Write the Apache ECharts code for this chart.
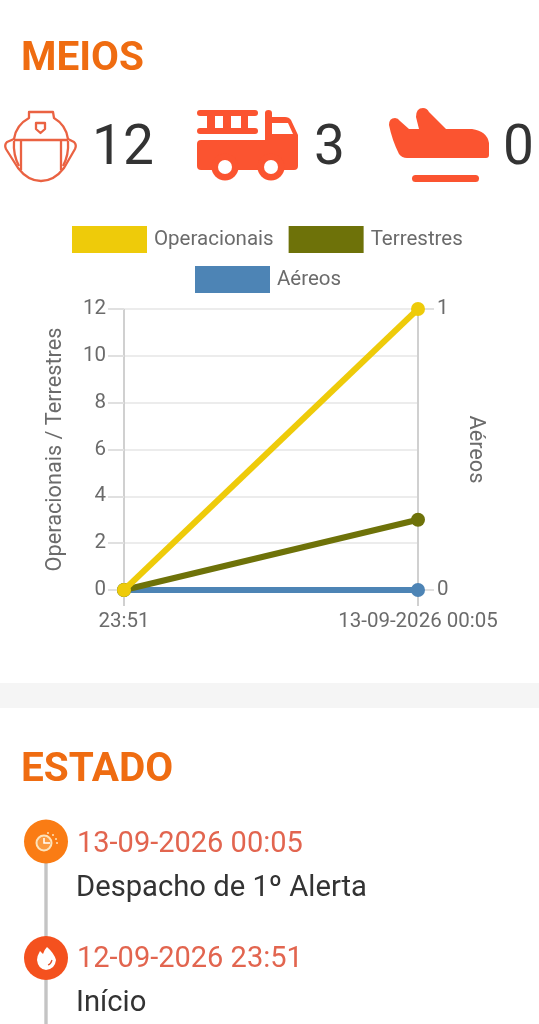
<!DOCTYPE html>
<html>
<head>
<meta charset="utf-8">
<style>html,body{margin:0;padding:0;background:#fff}#c{width:539px;height:1024px}</style>
<script src="https://cdn.jsdelivr.net/npm/echarts@6/dist/echarts.min.js"></script>
</head>
<body>
<div id="c"></div>
<script>
const timeLabels = ['23:51', '13-09-2026 00:05'];
const operacionais = [0, 12];
const terrestres = [0, 3];
const aereos = [0, 0];
const totals = ['12', '3', '0'];
const events = [
  ['13-09-2026 00:05', 'Despacho de 1º Alerta'],
  ['12-09-2026 23:51', 'Início']
];
const FONT = 'Roboto, sans-serif';
const GREY = '#6b6b6b';
const RED = '#fb5430';

function txt(x, y, s, size, color, weight) {
  return { type: 'text', x: x, y: y, silent: true,
    style: { text: s, fontFamily: FONT, fontSize: size, fontWeight: weight || 'normal', fill: color, verticalAlign: 'middle', align: 'left' } };
}
let shapeId = 0;
function path(d, style) {
  const name = 'icon' + (shapeId++);
  echarts.graphic.registerShape(name, echarts.graphic.extendPath(d, {}));
  return { type: name, silent: true, style: style };
}
function circle(cx, cy, r, style) {
  return { type: 'circle', silent: true, shape: { cx: cx, cy: cy, r: r }, style: style };
}
function rect(x, y, w, h, r, fill) {
  return { type: 'rect', silent: true, shape: { x: x, y: y, width: w, height: h, r: r }, style: { fill: fill } };
}
const line = { fill: 'none', stroke: '#ea6242', lineWidth: 2.3, lineJoin: 'round' };
const PALE = '#fde3bb';

const graphics = [
  rect(0, 683, 539, 25, 0, '#f5f5f5'),
  txt(21, 60, 'MEIOS', 40.5, '#ef6c11', 'bold'),
  txt(21, 771, 'ESTADO', 40.5, '#ef6c11', 'bold'),
  // helmet
  path('M29 112 L53 112 L54 118 Q66 125 68 139 L74 142 Q77 145 75 149 L64 168 Q54 181 41 181 Q28 181 18 168 L6 149 Q4 145 7 142 L14 139 Q16 125 29 118 Z', line),
  path('M14 140 L68 140 M21 140 L21 170 M61 140 L61 170', line),
  path('M14 141 Q13 155 19 166 M68 141 Q69 155 63 166', line),
  path('M36 123 L45 123 L45 129 L40.5 133 L36 129 Z', line),
  txt(92, 150, totals[0], 55, '#333'),
  // truck
  rect(197, 110, 61, 6, 3, RED), rect(197, 128, 61, 6, 3, RED),
  rect(207, 114, 8, 16, 0, RED), rect(223, 114, 8, 16, 0, RED), rect(241, 114, 7, 16, 0, RED),
  path('M201 140 L265 140 L265 113 Q265 110 268.5 110 Q272 110 272 113 L272 117 L285 117 Q289 117 291 120 L298 135 L298 166 Q298 170 294 170 L201 170 Q197 170 197 166 L197 144 Q197 140 201 140 Z', { fill: RED }),
  path('M272 123 L288 123 L293 134 L272 134 Z', { fill: '#fff' }),
  circle(225, 167, 13.5, { fill: RED }), circle(225, 167, 7, { fill: '#fff' }),
  circle(271, 167, 13.5, { fill: RED }), circle(271, 167, 7, { fill: '#fff' }),
  txt(314, 150, totals[1], 55, '#333'),
  // plane
  path('M389 125 Q389 118 395 118 Q398 118 400 121 L409 129 L419 129 L416 117 Q416 108 423 108 Q427 108 429 112 L446 129 L472 129 Q487 131 489 143 L489 155 Q489 158 486 158 L407 158 Q402 158 399 154 Q392 140 389 125 Z', { fill: RED }),
  rect(412, 175, 67, 7, 3.5, RED),
  txt(503, 150, totals[2], 55, '#333'),
  // timeline
  rect(44.3, 842, 3.4, 182, 0, '#c4c4c4'),
  circle(46, 841.5, 22, { fill: '#fa7c14' }),
  circle(44, 843, 7.5, { fill: '#fb9a3f', stroke: PALE, lineWidth: 2 }),
  path('M44 838 L44 843 L50 843', { fill: 'none', stroke: '#fff', lineWidth: 1.5 }),
  circle(48, 833, 1, { fill: PALE }), circle(53, 835, 1, { fill: PALE }), circle(56, 839, 1, { fill: PALE }), circle(57, 843, 1, { fill: PALE }),
  circle(46, 958, 22, { fill: '#f4511e' }),
  path('M47 947 Q54 953 56 960 Q55 969 46 970 Q38 969 37 960 Q37 956 40 951 L43 954 Q44 950 47 947 Z', { fill: '#fff' }),
  path('M52 960 Q51 964 48 965', { fill: 'none', stroke: '#e0502a', lineWidth: 1.2 }),
  txt(77, 845, events[0][0], 29, '#e2654f'),
  txt(76, 889, events[0][1], 29.2, '#333'),
  txt(77, 960, events[1][0], 29, '#e2654f'),
  txt(76, 1004, events[1][1], 29.2, '#333')
];

const legendBase = { icon: 'rect', itemWidth: 75, itemHeight: 27, itemGap: 15, padding: 0, orient: 'horizontal', selectedMode: false,
  textStyle: { fontFamily: FONT, fontSize: 20.5, color: GREY, padding: [2, 0, 0, 2] } };

const seriesBase = { type: 'line', symbol: 'circle', symbolSize: 14, smooth: false, lineStyle: { width: 6 } };

const option = {
  animation: false,
  backgroundColor: '#fff',
  textStyle: { fontFamily: FONT },
  graphic: graphics,
  legend: [
    Object.assign({}, legendBase, { left: 72, top: 226, data: ['Operacionais', 'Terrestres'] }),
    Object.assign({}, legendBase, { left: 195, top: 266, data: ['Aéreos'] })
  ],
  grid: { left: 124, top: 309, width: 294, height: 281, containLabel: false },
  xAxis: {
    type: 'category', boundaryGap: false, data: timeLabels,
    axisLine: { show: false },
    axisTick: { show: true, alignWithLabel: true, length: 16, lineStyle: { color: '#d0d0d0', width: 2 } },
    splitLine: { show: true, lineStyle: { color: '#d0d0d0', width: 2 } },
    axisLabel: { interval: 0, margin: 21, color: GREY, fontSize: 20.5, fontFamily: FONT, showMinLabel: true, showMaxLabel: true, hideOverlap: false }
  },
  yAxis: [
    { type: 'value', min: 0, max: 12, interval: 2, position: 'left',
      name: 'Operacionais / Terrestres', nameLocation: 'middle', nameGap: 57, nameRotate: 90,
      nameTextStyle: { color: GREY, fontSize: 21.7, fontFamily: FONT },
      axisLine: { show: false },
      axisTick: { show: true, length: 16, lineStyle: { color: '#e0e0e0', width: 2 } },
      splitLine: { show: true, lineStyle: { color: '#e6e6e6', width: 1.5 } },
      axisLabel: { margin: 18, color: GREY, fontSize: 20.5, fontFamily: FONT, padding: [3, 0, 0, 0] } },
    { type: 'value', min: 0, max: 1, interval: 1, position: 'right',
      name: 'Aéreos', nameLocation: 'middle', nameGap: 46, nameRotate: -90,
      nameTextStyle: { color: GREY, fontSize: 21.7, fontFamily: FONT },
      axisLine: { show: false },
      axisTick: { show: true, length: 16, lineStyle: { color: '#e0e0e0', width: 2 } },
      splitLine: { show: false },
      axisLabel: { margin: 19, color: GREY, fontSize: 20.5, fontFamily: FONT, padding: [3, 0, 0, 0] } }
  ],
  series: [
    Object.assign({}, seriesBase, { name: 'Aéreos', yAxisIndex: 1, data: aereos, z: 3, color: '#4d84b5', itemStyle: { color: '#4d84b5' } }),
    Object.assign({}, seriesBase, { name: 'Terrestres', yAxisIndex: 0, data: terrestres, z: 4, color: '#6e7209', itemStyle: { color: '#6e7209' } }),
    Object.assign({}, seriesBase, { name: 'Operacionais', yAxisIndex: 0, data: operacionais, z: 5, color: '#eecb0a', itemStyle: { color: '#eecb0a' } })
  ]
};
echarts.init(document.getElementById('c'), null, { renderer: 'canvas' }).setOption(option);
</script>
</body>
</html>
